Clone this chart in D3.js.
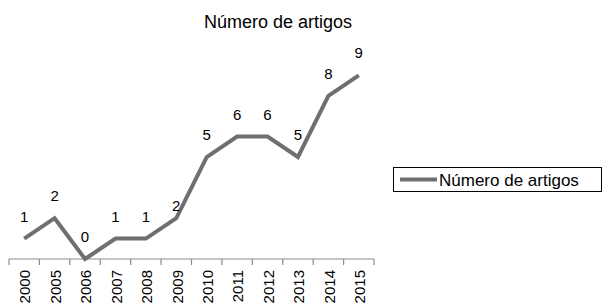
<!DOCTYPE html>
<html>
<head>
<meta charset="utf-8">
<script src="https://cdn.jsdelivr.net/npm/d3@7"></script>
<style>
  body { margin: 0; background: #fff; }
  svg { font-family: "Liberation Sans", Arial, sans-serif; }
</style>
</head>
<body>
<div id="chart"></div>
<script>
// data
var years = ["2000","2005","2006","2007","2008","2009","2010","2011","2012","2013","2014","2015"];
var artigos = [1, 2, 0, 1, 1, 2, 5, 6, 6, 5, 8, 9];
var seriesName = "Número de artigos";

var width = 602, height = 305;
var lineColor = "#6f6f6f";

var svg = d3.select("#chart").append("svg")
    .attr("width", width)
    .attr("height", height);

var x = d3.scaleBand().domain(years).range([9, 374]).padding(0);
var y = d3.scaleLinear().domain([0, 10]).range([259, 55]);

// title
svg.append("text")
    .attr("x", 278).attr("y", 28)
    .attr("text-anchor", "middle")
    .attr("font-size", 18)
    .text(seriesName);

// axis line + ticks between categories
var axis = svg.append("g").attr("stroke", "#8c8c8c").attr("stroke-width", 1.2);
axis.append("line")
    .attr("x1", x.range()[0]).attr("x2", x.range()[1])
    .attr("y1", y(0)).attr("y2", y(0));
var bounds = years.map(d => x(d)).concat([x.range()[1]]);
axis.selectAll("line.tick")
    .data(bounds)
  .join("line")
    .attr("class", "tick")
    .attr("x1", d => d).attr("x2", d => d)
    .attr("y1", y(0)).attr("y2", y(0) + 6);

// tick labels, rotated
svg.append("g")
    .selectAll("text")
    .data(years)
  .join("text")
    .attr("transform", d => "translate(" + (x(d) + x.bandwidth() / 2 + 1) + "," + 270 + ") rotate(-90)")
    .attr("text-anchor", "end")
    .attr("dy", "0.35em")
    .attr("font-size", 15)
    .text(d => d);

// the line
var line = d3.line()
    .x((d, i) => x(years[i]) + x.bandwidth() / 2)
    .y(d => y(d));

svg.append("path")
    .datum(artigos)
    .attr("fill", "none")
    .attr("stroke", lineColor)
    .attr("stroke-width", 4)
    .attr("stroke-linejoin", "miter")
    .attr("d", line);

// data labels (2009 one sits lower, as in original)
var labelShift = {"2009": 10};
svg.append("g")
    .selectAll("text")
    .data(artigos)
  .join("text")
    .attr("x", (d, i) => x(years[i]) + x.bandwidth() / 2)
    .attr("y", (d, i) => y(d) - 17 + (labelShift[years[i]] || 0))
    .attr("text-anchor", "middle")
    .attr("font-size", 15)
    .text(d => d);

// legend
var lg = svg.append("g");
lg.append("rect")
    .attr("x", 393.5).attr("y", 167.5)
    .attr("width", 208).attr("height", 24)
    .attr("fill", "none").attr("stroke", "#000");
lg.append("line")
    .attr("x1", 400).attr("x2", 437)
    .attr("y1", 179.5).attr("y2", 179.5)
    .attr("stroke", lineColor).attr("stroke-width", 4);
lg.append("text")
    .attr("x", 439).attr("y", 185.5)
    .attr("font-size", 17)
    .text(seriesName);
</script>
</body>
</html>
